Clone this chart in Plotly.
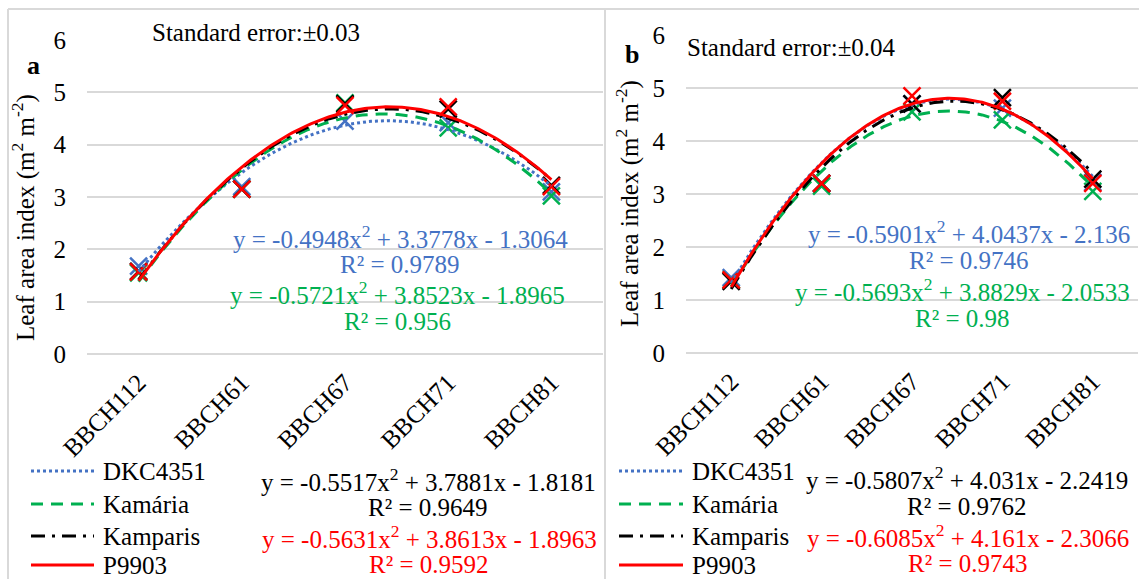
import numpy as np
import plotly.graph_objects as go

# ---------------- data ----------------
stages = ["BBCH112", "BBCH61", "BBCH67", "BBCH71", "BBCH81"]
stage_pos = [1, 2, 3, 4, 5]
hybrids = ["DKC4351", "Kamária", "Kamparis", "P9903"]

# panel a: leaf area index (observed points)
lai_a_dkc4351 = [1.68, 3.20, 4.45, 4.42, 3.10]
lai_a_kamaria = [1.55, 3.15, 4.80, 4.32, 3.02]
lai_a_kamparis = [1.58, 3.15, 4.78, 4.68, 3.22]
lai_a_p9903 = [1.57, 3.15, 4.75, 4.72, 3.20]

# panel b
lai_b_dkc4351 = [1.42, 3.20, 4.70, 4.62, 3.22]
lai_b_kamaria = [1.38, 3.15, 4.55, 4.40, 3.05]
lai_b_kamparis = [1.35, 3.20, 4.70, 4.82, 3.28]
lai_b_p9903 = [1.38, 3.20, 4.85, 4.75, 3.20]

# polynomial trendline coefficients (a, b, c) and R² as printed on the chart
coef_a_dkc4351 = [-0.4948, 3.3778, -1.3064]; r2_a_dkc4351 = 0.9789
coef_a_kamaria = [-0.5721, 3.8523, -1.8965]; r2_a_kamaria = 0.956
coef_a_kamparis = [-0.5517, 3.7881, -1.8181]; r2_a_kamparis = 0.9649
coef_a_p9903 = [-0.5631, 3.8613, -1.8963]; r2_a_p9903 = 0.9592

coef_b_dkc4351 = [-0.5901, 4.0437, -2.136]; r2_b_dkc4351 = 0.9746
coef_b_kamaria = [-0.5693, 3.8829, -2.0533]; r2_b_kamaria = 0.98
coef_b_kamparis = [-0.5807, 4.031, -2.2419]; r2_b_kamparis = 0.9762
coef_b_p9903 = [-0.6085, 4.161, -2.3066]; r2_b_p9903 = 0.9743

std_error_a = "±0.03"
std_error_b = "±0.04"
y_ticks = [0, 1, 2, 3, 4, 5, 6]

# ---------------- styles ----------------
W, H = 1139, 579
FONT = "'Liberation Serif', 'Times New Roman', Times, 'DejaVu Serif', 'Noto Serif', serif"
FS = 25
colors = ["#4472C4", "#00B050", "#000000", "#FF0000"]
dashes = ["3px,3px", "12px,8px", "14px,7px,3px,7px", "solid"]
GRID = "#D9D9D9"


def px(x):
    return x / W


def py(y):
    return 1 - y / H


panels = [
    dict(
        xa="x", ya="y", xdom=[px(87), px(603)], ydom=[py(354), py(40)],
        lai=[lai_a_dkc4351, lai_a_kamaria, lai_a_kamparis, lai_a_p9903],
        coef=[coef_a_dkc4351, coef_a_kamaria, coef_a_kamparis, coef_a_p9903],
        r2=[r2_a_dkc4351, r2_a_kamaria, r2_a_kamparis, r2_a_p9903],
        letter="a", letter_xy=(33, 65), se=std_error_a, se_xy=(150, 33),
        title_xy=(24, 218),
        eq_xy=[(400, 237, 265), (397, 293, 321), (428, 480, 507), (429, 537, 564)],
        leg_x=(31, 94, 101),
    ),
    dict(
        xa="x2", ya="y2", xdom=[px(686), px(1138)], ydom=[py(353), py(35)],
        lai=[lai_b_dkc4351, lai_b_kamaria, lai_b_kamparis, lai_b_p9903],
        coef=[coef_b_dkc4351, coef_b_kamaria, coef_b_kamparis, coef_b_p9903],
        r2=[r2_b_dkc4351, r2_b_kamaria, r2_b_kamparis, r2_b_p9903],
        letter="b", letter_xy=(632, 55), se=std_error_b, se_xy=(685, 48),
        title_xy=(628, 204),
        eq_xy=[(969, 232, 260), (962, 290, 318), (967, 478, 506), (968, 536, 563)],
        leg_x=(619, 683, 690),
    ),
]
leg_rows = [471, 504, 536, 565]

fig = go.Figure()
annotations = []
shapes = []

for p in panels:
    # observed points (x markers)
    for i, name in enumerate(hybrids):
        fig.add_trace(go.Scatter(
            x=stage_pos, y=p["lai"][i], mode="markers", name=name,
            xaxis=p["xa"], yaxis=p["ya"], showlegend=False,
            marker=dict(symbol="x-thin", size=17, color=colors[i],
                        line=dict(color=colors[i], width=2.5)),
        ))
    # polynomial trendlines
    xs = np.linspace(stage_pos[0], stage_pos[-1], 200)
    for i, name in enumerate(hybrids):
        a, b, c = p["coef"][i]
        fig.add_trace(go.Scatter(
            x=xs, y=a * xs ** 2 + b * xs + c, mode="lines", name=name,
            xaxis=p["xa"], yaxis=p["ya"], showlegend=False,
            line=dict(color=colors[i], width=3, dash=dashes[i]),
        ))
    # equation labels
    for i, name in enumerate(hybrids):
        a, b, c = p["coef"][i]
        sign = "-" if c < 0 else "+"
        eq = f"y = {a}x<sup>2</sup> + {b}x {sign} {abs(c)}"
        cx, ey, ry = p["eq_xy"][i]
        tc = colors[i]
        for txt, yy in ((eq, ey), (f"R² = {p['r2'][i]}", ry)):
            annotations.append(dict(
                text=txt, x=px(cx), y=py(yy), xref="paper", yref="paper",
                xanchor="center", yanchor="middle", showarrow=False,
                font=dict(family=FONT, size=FS, color=tc)))
    # manual legend
    x0, x1, xt = p["leg_x"]
    for i, name in enumerate(hybrids):
        yy = leg_rows[i]
        shapes.append(dict(type="line", xref="paper", yref="paper",
                           x0=px(x0), x1=px(x1), y0=py(yy), y1=py(yy),
                           line=dict(color=colors[i], width=3, dash=dashes[i])))
        annotations.append(dict(
            text=name, x=px(xt), y=py(yy), xref="paper", yref="paper",
            xanchor="left", yanchor="middle", showarrow=False,
            font=dict(family=FONT, size=FS, color="#000000")))
    # panel letter, standard error, y title
    lx, ly = p["letter_xy"]
    annotations.append(dict(text=f"<b>{p['letter']}</b>", x=px(lx), y=py(ly),
                            xref="paper", yref="paper", xanchor="center", yanchor="middle",
                            showarrow=False, font=dict(family=FONT, size=FS + 1, color="#000")))
    sx, sy = p["se_xy"]
    annotations.append(dict(text=f"Standard error:{p['se']}", x=px(sx), y=py(sy),
                            xref="paper", yref="paper", xanchor="left", yanchor="middle",
                            showarrow=False, font=dict(family=FONT, size=FS, color="#000")))
    tx, ty = p["title_xy"]
    annotations.append(dict(text="Leaf area index (m<sup>2</sup> m<sup>-2</sup>)",
                            x=px(tx), y=py(ty),
                            xref="paper", yref="paper", xanchor="center", yanchor="middle",
                            textangle=-90, showarrow=False,
                            font=dict(family=FONT, size=FS, color="#000")))

axis_font = dict(family=FONT, size=FS, color="#000")
for p in panels:
    xkey = "xaxis" if p["xa"] == "x" else "xaxis2"
    ykey = "yaxis" if p["ya"] == "y" else "yaxis2"
    fig.update_layout(**{
        xkey: dict(domain=p["xdom"], range=[0.5, 5.5], tickvals=stage_pos, ticktext=stages,
                   tickangle=-45, showgrid=False, zeroline=False, showline=False,
                   ticks="", tickfont=axis_font, anchor=p["ya"], fixedrange=True,
                   automargin=False, ticklabelstandoff=8),
        ykey: dict(domain=p["ydom"], range=[0, 6], tickvals=y_ticks, showgrid=True,
                   gridcolor=GRID, gridwidth=2, zeroline=True, zerolinecolor=GRID,
                   zerolinewidth=2, showline=False, ticks="", tickfont=axis_font,
                   anchor=p["xa"], fixedrange=True, automargin=False,
                   ticklabelstandoff=20),
    })

# chart borders
for s in [dict(x0=8, x1=8, y0=9, y1=H), dict(x0=8, x1=W, y0=9, y1=9),
          dict(x0=605, x1=605, y0=9, y1=H)]:
    shapes.append(dict(type="line", xref="paper", yref="paper",
                       x0=px(s["x0"]), x1=px(s["x1"]), y0=py(s["y0"]), y1=py(s["y1"]),
                       line=dict(color=GRID, width=2)))

fig.update_layout(width=W, height=H, margin=dict(l=0, r=0, t=0, b=0, autoexpand=False),
                  paper_bgcolor="white", plot_bgcolor="white",
                  font=dict(family=FONT, size=FS, color="#000"),
                  showlegend=False, annotations=annotations, shapes=shapes)
fig.write_html("out.html")
